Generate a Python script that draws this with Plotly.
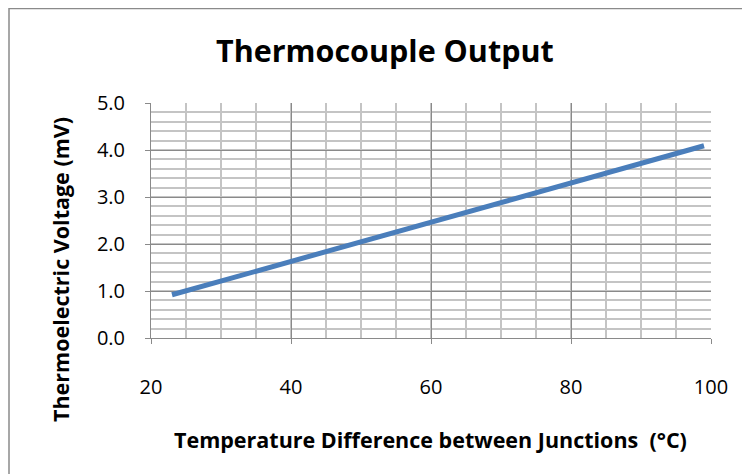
import plotly.graph_objects as go

temp_diff = [23, 99]
voltage_mv = [0.92, 4.09]

x_ticks = [20, 40, 60, 80, 100]
y_ticks = [0, 1, 2, 3, 4, 5]
y_tick_labels = ["0.0", "1.0", "2.0", "3.0", "4.0", "5.0"]

title_text = "Thermocouple Output"
x_title = "Temperature Difference between Junctions  (°C)"
y_title = "Thermoelectric Voltage (mV)"

FONT = "'Open Sans', Lato, sans-serif"

# page body adds an 8px offset; compensate
OFF = 8
L, R, T, B = 151 - OFF, 39 + OFF, 103 - OFF, 136 + OFF
PW, PH = 750 - L - R, 474 - T - B


def px(xs):
    return (xs - OFF - L) / PW


def py(ys):
    return (474 - B - (ys - OFF)) / PH


fig = go.Figure()
fig.add_trace(go.Scatter(
    x=temp_diff, y=voltage_mv, mode="lines",
    line=dict(color="#4A7EBB", width=5),
    showlegend=False,
))

fig.update_layout(
    width=750, height=474,
    margin=dict(l=L, r=R, t=T, b=B),
    paper_bgcolor="white", plot_bgcolor="white",
    font=dict(family=FONT, color="black"),
    xaxis=dict(
        range=[20, 100], tickvals=x_ticks, ticktext=[str(v) for v in x_ticks],
        showgrid=True, gridcolor="#8a8a8a", gridwidth=1,
        minor=dict(dtick=5, showgrid=True, gridcolor="#c4c4c4", gridwidth=1.5),
        showline=True, linecolor="#8a8a8a", linewidth=1,
        ticks="outside", ticklen=5, tickcolor="#8a8a8a",
        tickfont=dict(size=20, family=FONT), ticklabelstandoff=26,
        zeroline=False, fixedrange=True,
    ),
    yaxis=dict(
        range=[0, 5], tickvals=y_ticks, ticktext=y_tick_labels,
        showgrid=True, gridcolor="#8a8a8a", gridwidth=1,
        minor=dict(dtick=0.2, showgrid=True, gridcolor="#c4c4c4", gridwidth=1.5),
        showline=True, linecolor="#8a8a8a", linewidth=1,
        ticks="outside", ticklen=5, tickcolor="#8a8a8a",
        tickfont=dict(size=20, family=FONT), ticklabelstandoff=16,
        zeroline=False, fixedrange=True,
    ),
    shapes=[dict(
        type="rect", xref="paper", yref="paper",
        x0=px(9), x1=px(790),
        y0=py(520), y1=py(8.5),
        line=dict(color="#8a8a8a", width=1.5), fillcolor="rgba(0,0,0,0)",
        layer="below",
    )],
    annotations=[
        dict(text="<b>" + title_text + "</b>", xref="paper", yref="paper",
             x=px(385), y=py(50), showarrow=False,
             xanchor="center", yanchor="middle",
             font=dict(size=30.5, family=FONT, color="black")),
        dict(text="<b>" + x_title + "</b>", xref="paper", yref="paper",
             x=px(430), y=py(439), showarrow=False,
             xanchor="center", yanchor="middle",
             font=dict(size=21.5, family=FONT, color="black")),
        dict(text="<b>" + y_title + "</b>", xref="paper", yref="paper",
             x=px(60), y=py(270), showarrow=False,
             xanchor="center", yanchor="middle", textangle=-90,
             font=dict(size=21.5, family=FONT, color="black")),
    ],
)

fig.write_html("out.html")
